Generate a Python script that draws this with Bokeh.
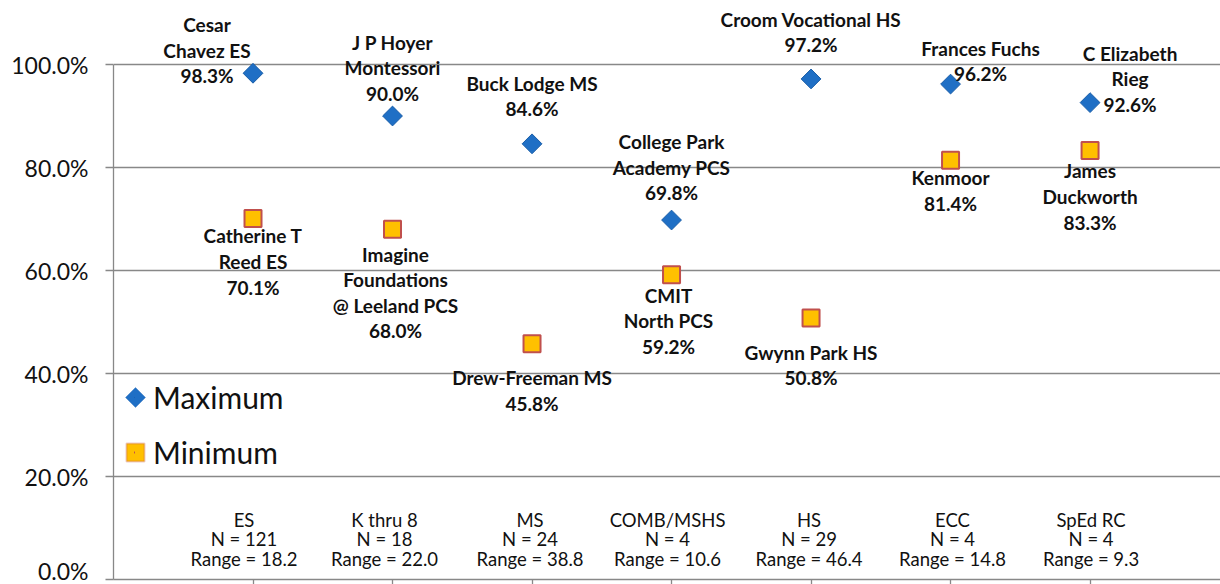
from math import pi
from bokeh.plotting import figure
from bokeh.models import (ColumnDataSource, FixedTicker, PrintfTickFormatter,
                          Range1d, Legend, LegendItem, PolyAnnotation)
from bokeh.core.properties import value
from bokeh.embed import file_html
from bokeh.resources import INLINE

# ---------------- data ----------------
categories = ["ES", "K thru 8", "MS", "COMB/MSHS", "HS", "ECC", "SpEd RC"]
school_counts = [121, 18, 24, 4, 29, 4, 4]
category_ranges = ["18.2", "22.0", "38.8", "10.6", "46.4", "14.8", "9.3"]

max_schools = ["Cesar\nChavez ES", "J P Hoyer\nMontessori", "Buck Lodge MS",
               "College Park\nAcademy PCS", "Croom Vocational HS",
               "Frances Fuchs", "C Elizabeth\nRieg"]
max_values = [98.3, 90.0, 84.6, 69.8, 97.2, 96.2, 92.6]

min_schools = ["Catherine T\nReed ES", "Imagine\nFoundations\n@ Leeland PCS",
               "Drew-Freeman MS", "CMIT\nNorth PCS", "Gwynn Park HS",
               "Kenmoor", "James\nDuckworth"]
min_values = [70.1, 68.0, 45.8, 59.2, 50.8, 81.4, 83.3]

y_ticks = [0, 20, 40, 60, 80, 100]

# ---------------- layout (label offsets in pixels, relative to markers) ----------------
max_label_dx = [-46, 0, 0, 0, 0, 30, 40]
max_label_dy = [-23, -48, -48, -53, -47, -23, -24]
min_label_dx = [0, 3, 0, -3, 0, 0, 0]
min_label_dy = [43, 63, 47, 46, 47, 30, 46]
cat_label_dx = [-9, -8, -2, -4, -2, 2, 1]

xpos = list(range(1, len(categories) + 1))

max_src = ColumnDataSource(dict(
    x=xpos, y=max_values,
    label=[f"{s}\n{v:.1f}%" for s, v in zip(max_schools, max_values)],
    dx=max_label_dx, dy=max_label_dy))
min_src = ColumnDataSource(dict(
    x=xpos, y=min_values,
    label=[f"{s}\n{v:.1f}%" for s, v in zip(min_schools, min_values)],
    dx=min_label_dx, dy=min_label_dy))
cat_src = ColumnDataSource(dict(
    x=xpos, y=[0] * len(categories),
    label=[f"{c}\nN = {n}\nRange = {r}" for c, n, r in
           zip(categories, school_counts, category_ranges)],
    dx=cat_label_dx))

FONT = value("Lato")
GRID = "#888888"
TXT = "#111111"
MAX_FILL, MAX_LINE = "#1F6FC5", "#1A5EA8"
MIN_FILL, MIN_LINE = "#FFC000", "#C0504D"

p = figure(width=1220, height=584, output_backend="svg", toolbar_location=None,
           x_range=Range1d(0, 7.935), y_range=Range1d(0, 112.43),
           min_border_left=113, min_border_right=0, min_border_top=0,
           min_border_bottom=5)
p.outline_line_color = None
p.background_fill_color = "white"

# grid
p.xgrid.visible = False
p.ygrid.ticker = FixedTicker(ticks=y_ticks)
p.ygrid.grid_line_color = GRID
p.ygrid.grid_line_width = 1.3

# y axis
p.yaxis.ticker = FixedTicker(ticks=y_ticks)
p.yaxis.formatter = PrintfTickFormatter(format="%.1f%%")
p.yaxis.bounds = (0, 100)
p.yaxis.axis_line_color = GRID
p.yaxis.axis_line_width = 1.3
p.yaxis.major_tick_line_color = GRID
p.yaxis.major_tick_line_width = 1.3
p.yaxis.major_tick_out = 8
p.yaxis.major_tick_in = 0
p.yaxis.minor_tick_out = 0
p.yaxis.minor_tick_in = 0
p.yaxis.major_label_standoff = 17
p.yaxis.major_label_text_font = "Lato"
p.yaxis.major_label_text_font_size = "23px"
p.yaxis.major_label_text_color = TXT

# x axis (tick marks only, category text drawn inside the plot)
p.xaxis.ticker = FixedTicker(ticks=list(range(1, len(categories) + 2)))
p.xaxis.axis_line_color = GRID
p.xaxis.axis_line_width = 1.3
p.xaxis.major_tick_line_color = GRID
p.xaxis.major_tick_line_width = 1.3
p.xaxis.major_tick_out = 5
p.xaxis.major_tick_in = 0
p.xaxis.minor_tick_out = 0
p.xaxis.minor_tick_in = 0
p.xaxis.major_label_text_font_size = "0px"
p.xaxis.major_label_text_color = None
p.xaxis.major_label_standoff = 0

# markers
rmax = p.scatter("x", "y", source=max_src, marker="square", size=14, angle=pi / 4,
                 fill_color=MAX_FILL, line_color=MAX_LINE, line_width=1)
rmin = p.scatter("x", "y", source=min_src, marker="square", size=17,
                 fill_color=MIN_FILL, line_color=MIN_LINE, line_width=2)

# data labels
for src in (max_src, min_src):
    p.text("x", "y", text="label", source=src, x_offset="dx", y_offset="dy",
           text_align="center", text_baseline="middle", text_font=FONT,
           text_font_style="bold", text_font_size="19px", text_color=TXT,
           text_line_height=1.11)

# category labels
p.text("x", "y", text="label", source=cat_src, x_offset="dx", y_offset=-40,
       text_align="center", text_baseline="middle", text_font=FONT,
       text_font_size="18.5px", text_color=TXT, text_line_height=0.9)

# legends (label text; the symbols are drawn on top as annotations)
leg_kw = dict(glyph_width=1, glyph_height=40, label_height=40,
              label_standoff=18, padding=0, margin=0, spacing=0,
              border_line_alpha=0, background_fill_alpha=0,
              label_text_font="Lato", label_text_font_size="30px",
              label_text_color=TXT)
leg_max = Legend(items=[LegendItem(label="Maximum", renderers=[rmax])],
                 location=(21, 162), **leg_kw)
leg_min = Legend(items=[LegendItem(label="Minimum", renderers=[rmin])],
                 location=(21, 107), **leg_kw)
p.add_layout(leg_max)
p.add_layout(leg_min)

# legend symbols (screen units, frame-relative), drawn after the legends
legend_diamond = PolyAnnotation(xs=[12, 22, 32, 22], ys=[182, 192, 182, 172],
                                xs_units="screen", ys_units="screen",
                                fill_color=MAX_FILL, fill_alpha=1,
                                line_color=MAX_LINE, line_width=1)
legend_square = PolyAnnotation(xs=[13, 31, 31, 13], ys=[118, 118, 136, 136],
                               xs_units="screen", ys_units="screen",
                               fill_color=MIN_FILL, fill_alpha=1,
                               line_color=MIN_LINE, line_width=2)
p.add_layout(legend_diamond)
p.add_layout(legend_square)

open("out.html", "w").write(file_html(p, INLINE))
